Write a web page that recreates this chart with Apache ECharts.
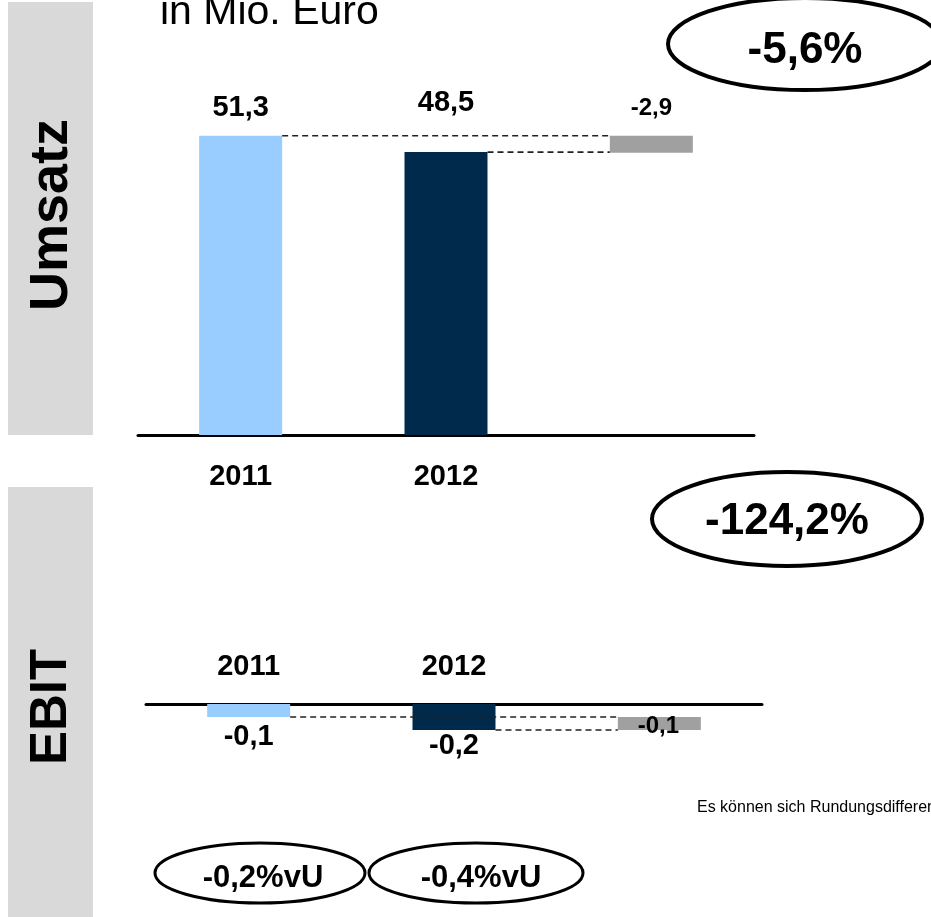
<!DOCTYPE html>
<html>
<head>
<meta charset="utf-8">
<script src="https://cdn.jsdelivr.net/npm/echarts@6/dist/echarts.min.js"></script>
<style>
  html, body { margin: 0; padding: 0; background: #fff; }
  #chart { width: 931px; height: 917px; }
</style>
</head>
<body>
<div id="chart"></div>
<script>
// Umsatz / EBIT bridge, 2011 vs 2012 (in Mio. Euro)
const categories = ['2011', '2012', ''];
const umsatzValues = [51.3, 48.5];
const umsatzDelta = -2.9;
const ebitValues = [-0.1, -0.2];
const ebitDelta = -0.1;
const umsatzChange = '-5,6%';
const ebitChange = '-124,2%';
const ebitMargins = ['-0,2%vU', '-0,4%vU'];
const sectionTitles = ['Umsatz', 'EBIT'];
const unitText = 'in Mio. Euro';
const footnote = 'Es können sich Rundungsdifferenzen ergeben';

const FONT = '"Liberation Sans", Arial, Helvetica, sans-serif';
const LIGHT = '#99ccff';
const DARK = '#002a4c';
const GREY = '#a0a0a0';
const BAR_W = 83;

const fmt = v => v.toFixed(1).replace('.', ',');

const chart = echarts.init(document.getElementById('chart'), null, { renderer: 'canvas' });

// dashed connector between bar edges: [fromCategory, value, toCategory]
function connector(api) {
  const from = api.coord([api.value(0), api.value(1)]);
  const to = api.coord([api.value(2), api.value(1)]);
  return {
    type: 'line',
    shape: { x1: from[0] + BAR_W / 2, y1: from[1], x2: to[0] - BAR_W / 2, y2: to[1] },
    style: { stroke: '#222', lineWidth: 1.6, lineDash: [6, 4] }
  };
}

const valueLabel = { show: true, fontFamily: FONT, fontWeight: 'bold', fontSize: 29, color: '#000' };

// Umsatz: real bars plus the invisible base that lifts the change bar
const umsatzBase = umsatzValues[0] + umsatzDelta;
const umsatzMain = [
  { value: umsatzValues[0], itemStyle: { color: LIGHT }, label: { ...valueLabel, position: 'top', distance: 13 } },
  { value: umsatzValues[1], itemStyle: { color: DARK }, label: { ...valueLabel, position: 'top', distance: 35 } },
  { value: umsatzBase, itemStyle: { color: 'transparent' }, label: { show: false } }
];
const umsatzStep = ['-', '-', {
  value: -umsatzDelta, itemStyle: { color: GREY },
  label: { ...valueLabel, fontSize: 24, position: 'top', distance: 15, formatter: () => fmt(umsatzDelta) }
}];

// EBIT: negative bars hang below the zero line
const ebitMain = [
  { value: ebitValues[0], itemStyle: { color: LIGHT }, label: { ...valueLabel, position: 'bottom', distance: 5 } },
  { value: ebitValues[1], itemStyle: { color: DARK }, label: { ...valueLabel, position: 'bottom', distance: 1 } },
  { value: ebitValues[0], itemStyle: { color: 'transparent' }, label: { show: false } }
];
const ebitStep = ['-', '-', {
  value: ebitDelta, itemStyle: { color: GREY },
  label: { ...valueLabel, fontSize: 24, position: 'inside', offset: [-1, 3], formatter: () => fmt(ebitDelta) }
}];

const option = {
  animation: false,
  backgroundColor: '#fff',
  textStyle: { fontFamily: FONT },
  grid: [
    { left: 138, top: 85, width: 616, height: 350 },
    { left: 146, top: 704, width: 616, height: 65 }
  ],
  xAxis: [
    {
      gridIndex: 0, type: 'category', data: categories, position: 'bottom',
      axisLine: { show: true, onZero: false, lineStyle: { color: '#000', width: 3 } },
      axisTick: { show: false },
      axisLabel: { fontFamily: FONT, fontWeight: 'bold', fontSize: 29, color: '#000', margin: 27, lineHeight: 29 }
    },
    {
      gridIndex: 1, type: 'category', data: categories, position: 'top',
      axisLine: { show: true, onZero: false, lineStyle: { color: '#000', width: 3 } },
      axisTick: { show: false },
      axisLabel: { fontFamily: FONT, fontWeight: 'bold', fontSize: 29, color: '#000', margin: 23, lineHeight: 29 }
    }
  ],
  yAxis: [
    { gridIndex: 0, type: 'value', min: 0, max: 60, show: false, splitLine: { show: false } },
    { gridIndex: 1, type: 'value', min: -0.5, max: 0, show: false, splitLine: { show: false } }
  ],
  series: [
    {
      type: 'bar', xAxisIndex: 0, yAxisIndex: 0, stack: 'umsatz', barWidth: BAR_W, z: 2,
      data: umsatzMain, label: { formatter: p => fmt(p.value) }
    },
    { type: 'bar', xAxisIndex: 0, yAxisIndex: 0, stack: 'umsatz', barWidth: BAR_W, z: 2, data: umsatzStep },
    {
      type: 'custom', xAxisIndex: 0, yAxisIndex: 0, z: 5, renderItem: (params, api) => connector(api),
      encode: { x: 0, y: 1 },
      data: [[0, umsatzValues[0], 2], [1, umsatzValues[1], 2]]
    },
    {
      type: 'bar', xAxisIndex: 1, yAxisIndex: 1, stack: 'ebit', barWidth: BAR_W, z: 2,
      data: ebitMain, label: { formatter: p => fmt(p.value) }
    },
    { type: 'bar', xAxisIndex: 1, yAxisIndex: 1, stack: 'ebit', barWidth: BAR_W, z: 2, data: ebitStep },
    {
      type: 'custom', xAxisIndex: 1, yAxisIndex: 1, z: 5, renderItem: (params, api) => connector(api),
      encode: { x: 0, y: 1 },
      data: [[0, ebitValues[0], 2], [1, ebitValues[1], 2]]
    }
  ],
  graphic: [
    // section tabs on the left
    { type: 'rect', shape: { x: 8, y: 2, width: 85, height: 433 }, style: { fill: '#d9d9d9' }, z: 0 },
    { type: 'rect', shape: { x: 8, y: 487, width: 85, height: 430 }, style: { fill: '#d9d9d9' }, z: 0 },
    {
      type: 'text', x: 52, y: 215, rotation: Math.PI / 2,
      style: { text: sectionTitles[0], font: 'bold 54px ' + FONT, fill: '#000', align: 'center', verticalAlign: 'middle' }
    },
    {
      type: 'text', x: 52, y: 707, rotation: Math.PI / 2,
      style: { text: sectionTitles[1], font: 'bold 51px ' + FONT, fill: '#000', align: 'center', verticalAlign: 'middle' }
    },
    // unit
    {
      type: 'text', x: 160, y: 13,
      style: { text: unitText, font: '41px ' + FONT, fill: '#000', align: 'left', verticalAlign: 'middle' }
    },
    // change bubbles
    { type: 'ellipse', shape: { cx: 805, cy: 44, rx: 137, ry: 46 }, style: { fill: '#fff', stroke: '#000', lineWidth: 4 }, z: 10 },
    {
      type: 'text', x: 805, y: 51, z: 11,
      style: { text: umsatzChange, font: 'bold 44px ' + FONT, fill: '#000', align: 'center', verticalAlign: 'middle' }
    },
    { type: 'ellipse', shape: { cx: 787, cy: 519, rx: 135, ry: 47 }, style: { fill: '#fff', stroke: '#000', lineWidth: 4 }, z: 10 },
    {
      type: 'text', x: 787, y: 522, z: 11,
      style: { text: ebitChange, font: 'bold 44px ' + FONT, fill: '#000', align: 'center', verticalAlign: 'middle' }
    },
    // EBIT margins
    { type: 'ellipse', shape: { cx: 260, cy: 873, rx: 105, ry: 30 }, style: { fill: '#fff', stroke: '#000', lineWidth: 3 }, z: 10 },
    {
      type: 'text', x: 263, y: 878, z: 11,
      style: { text: ebitMargins[0], font: 'bold 31px ' + FONT, fill: '#000', align: 'center', verticalAlign: 'middle' }
    },
    { type: 'ellipse', shape: { cx: 476, cy: 873, rx: 107, ry: 30 }, style: { fill: '#fff', stroke: '#000', lineWidth: 3 }, z: 10 },
    {
      type: 'text', x: 481, y: 878, z: 11,
      style: { text: ebitMargins[1], font: 'bold 31px ' + FONT, fill: '#000', align: 'center', verticalAlign: 'middle' }
    },
    // footnote
    {
      type: 'text', x: 697, y: 808,
      style: { text: footnote, font: '16px ' + FONT, fill: '#000', align: 'left', verticalAlign: 'middle' }
    }
  ]
};

chart.setOption(option);
</script>
</body>
</html>
